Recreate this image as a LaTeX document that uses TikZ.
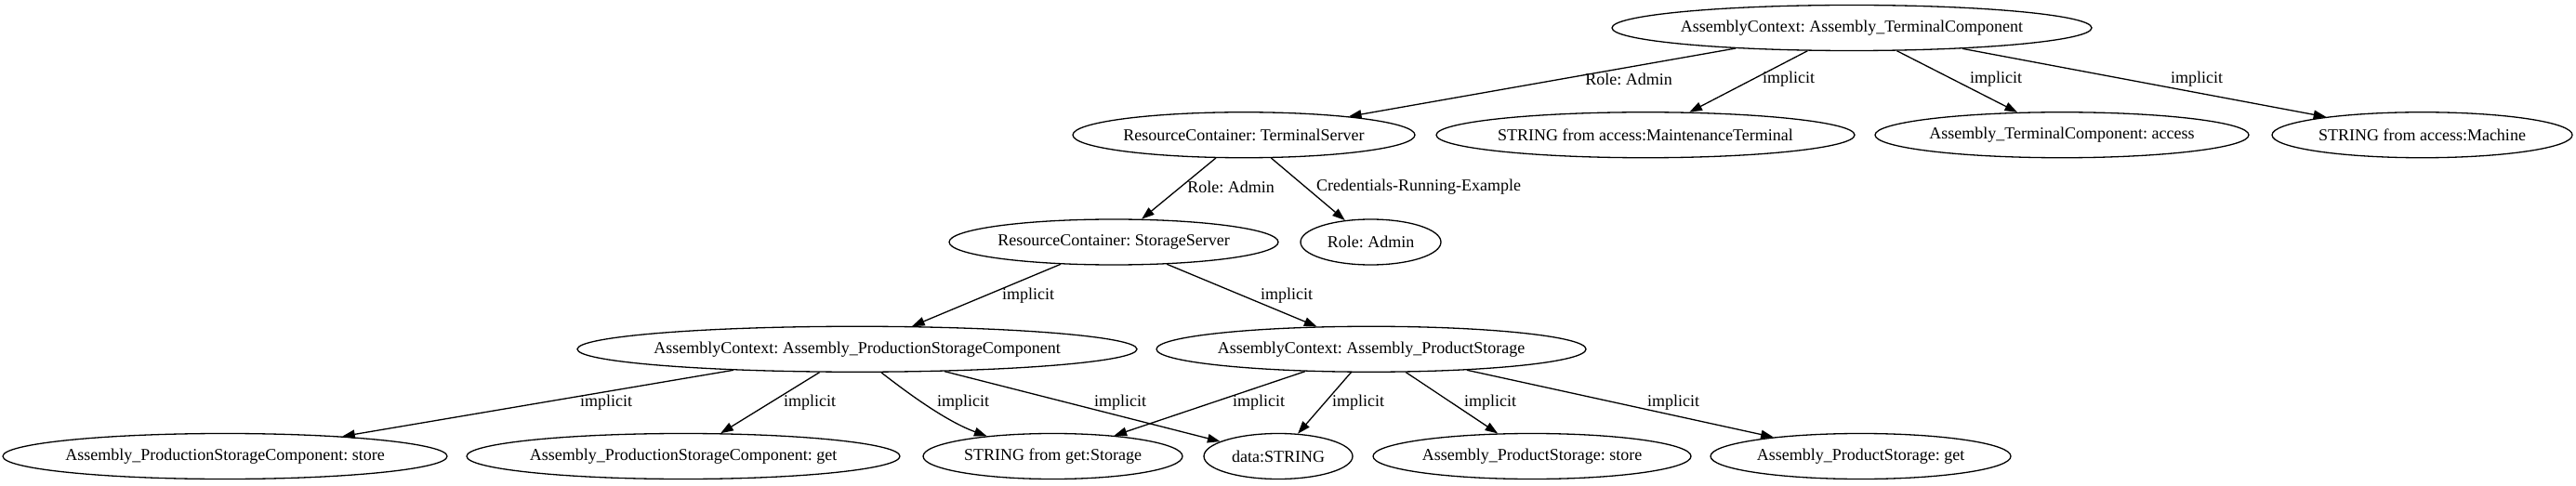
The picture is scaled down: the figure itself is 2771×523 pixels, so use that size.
\documentclass[tikz,border=0pt]{standalone}
\usepackage{fontspec}
\setmainfont{Liberation Serif}
\usetikzlibrary{shapes.geometric,arrows.meta}
\frenchspacing
\begin{document}
\begin{tikzpicture}[x=1bp,y=-1bp,
  nd/.style={ellipse,draw,line width=1.3bp,inner sep=0pt,minimum height=49bp,
    font=\fontsize{18bp}{21bp}\selectfont,
    execute at begin node={\hbox to 0pt\bgroup\hss},
    execute at end node={\hss\egroup}},
  lb/.style={inner sep=0pt,font=\fontsize{18bp}{21bp}\selectfont},
  ed/.style={line width=1.3bp,-{Triangle[length=13.6bp,width=9.5bp]}}]
\useasboundingbox[fill=white] (0,0) rectangle (2771,523);
% row 1
\node[nd,minimum width=516bp] (t) at (1992,30) {AssemblyContext: Assembly\_TerminalComponent};
% row 2
\node[nd,minimum width=368bp] (ts) at (1338,145.25) {ResourceContainer: TerminalServer};
\node[nd,minimum width=450bp] (mt) at (1770,145.25) {STRING from access:MaintenanceTerminal};
\node[nd,minimum width=402bp] (ac) at (2218,145.25) {Assembly\_TerminalComponent: access};
\node[nd,minimum width=323bp] (sm) at (2605.5,145.25) {STRING from access:Machine};
% row 3
\node[nd,minimum width=354bp] (ss) at (1198,260.5) {ResourceContainer: StorageServer};
\node[nd,minimum width=151bp] (ra) at (1474.5,260.5) {Role: Admin};
% row 4
\node[nd,minimum width=602bp] (psc) at (922,375.75) {AssemblyContext: Assembly\_ProductionStorageComponent};
\node[nd,minimum width=462bp] (ps) at (1475,375.75) {AssemblyContext: Assembly\_ProductStorage};
% row 5
\node[nd,minimum width=478bp] (pscs) at (242,491) {Assembly\_ProductionStorageComponent: store};
\node[nd,minimum width=466bp] (pscg) at (735,491) {Assembly\_ProductionStorageComponent: get};
\node[nd,minimum width=279bp] (sgs) at (1132.5,491) {STRING from get:Storage};
\node[nd,minimum width=160bp] (ds) at (1375,491) {data:STRING};
\node[nd,minimum width=342bp] (psst) at (1648,491) {Assembly\_ProductStorage: store};
\node[nd,minimum width=323bp] (psg) at (2001.5,491) {Assembly\_ProductStorage: get};
% edges
\draw[ed] (t) -- (ts);
\draw[ed] (t) -- (mt);
\draw[ed] (t) -- (ac);
\draw[ed] (t) -- (sm);
\draw[ed] (ts) -- (ss);
\draw[ed] (ts) -- (ra);
\draw[ed] (ss) -- (psc);
\draw[ed] (ss) -- (ps);
\draw[ed] (psc) -- (pscs);
\draw[ed] (psc) -- (pscg);
\draw[ed] (psc.-44) .. controls +(38:40) and +(-160:45) .. (sgs.163);
\draw[ed] (psc) -- (ds);
\draw[ed] (ps) -- (sgs);
\draw[ed] (ps) -- (ds);
\draw[ed] (ps) -- (psst);
\draw[ed] (ps) -- (psg);
% edge labels
\node[lb] (l1) at (1752,85) {Role: Admin};
\node[lb] (l2) at (1924,85) {implicit};
\node[lb] (l3) at (2147,85) {implicit};
\node[lb] (l4) at (2363,85) {implicit};
\node[lb] (l5) at (1324,201) {Role: Admin};
\node[lb] (l6) at (1526,201) {Credentials-Running-Example};
\node[lb] (l7) at (1106,318) {implicit};
\node[lb] (l8) at (1384,318) {implicit};
\node[lb] (l9) at (652,433) {implicit};
\node[lb] (l10) at (871,433) {implicit};
\node[lb] (l11) at (1036,433) {implicit};
\node[lb] (l12) at (1205,433) {implicit};
\node[lb] (l13) at (1354,433) {implicit};
\node[lb] (l14) at (1461,433) {implicit};
\node[lb] (l15) at (1603,433) {implicit};
\node[lb] (l16) at (1800,433) {implicit};
\end{tikzpicture}
\end{document}
